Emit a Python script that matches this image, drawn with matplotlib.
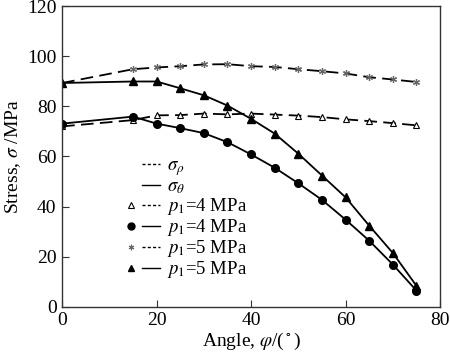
import numpy as np
import matplotlib
matplotlib.use('Agg')
from matplotlib import pyplot as plt
from matplotlib.lines import Line2D
from matplotlib.legend_handler import HandlerTuple

plt.rcParams['font.family'] = ['Liberation Serif', 'DejaVu Serif']
plt.rcParams['mathtext.fontset'] = 'stix'

# 角度 (°)
angle = [0, 15, 20, 25, 30, 35, 40, 45, 50, 55, 60, 65, 70, 75]

# p1 = 4 MPa
rho_p4 = [72.0, 74.5, 76.4, 76.5, 77.1, 76.8, 77.1, 76.7, 76.3, 75.7, 74.8, 74.1, 73.3, 72.4]
theta_p4 = [73.1, 75.9, 73.1, 71.3, 69.3, 65.7, 60.8, 55.5, 49.3, 42.7, 34.8, 26.4, 16.9, 6.5]

# p1 = 5 MPa
rho_p5 = [89.3, 94.8, 95.5, 96.0, 96.7, 96.8, 96.0, 95.7, 94.8, 94.0, 93.1, 91.6, 90.7, 89.7]
theta_p5 = [89.3, 89.9, 89.9, 87.2, 84.4, 80.3, 75.0, 69.1, 61.1, 52.4, 43.7, 32.4, 21.5, 8.4]

fig = plt.figure(figsize=(4.5, 3.54), dpi=100)
ax = fig.add_axes([0.138, 0.133, 0.84, 0.85])

dash = (7, 3.5)
ax.plot(angle, rho_p4, color='black', lw=1.3, dashes=dash, marker='^', ms=4.5,
        mfc='white', mec='black', mew=0.8)
ax.plot(angle, theta_p4, color='black', lw=1.3, marker='o', ms=5.5)
ax.plot(angle, rho_p5, color='black', lw=1.3, dashes=dash, marker=(6, 2, 0), ms=5,
        mec='#666666', mew=0.9)
ax.plot(angle, theta_p5, color='black', lw=1.3, marker='^', ms=6)

ax.set_xlim(0, 80)
ax.set_ylim(0, 120)
ax.set_xticks([0, 20, 40, 60, 80])
ax.set_yticks([0, 20, 40, 60, 80, 100, 120])
ax.tick_params(direction='in', length=5, labelsize=14, top=False, right=False,
               color='#333333', pad=4)
for sp in ax.spines.values():
    sp.set_color('#333333')
    sp.set_linewidth(1.0)

ax.set_xlabel(r'Angle, $\varphi$/($^\circ$)', fontsize=14, labelpad=1)
ax.set_ylabel(r'Stress, $\sigma$ /MPa', fontsize=14, labelpad=3)

# 图例
blank = Line2D([], [], ls='none', marker='None')
short = (2.2, 1.6)
ln_d = Line2D([], [], color='black', lw=1.0, dashes=short)
ln_s = Line2D([], [], color='black', lw=1.0)
m_tri_o = Line2D([], [], ls='none', marker='^', ms=4, mfc='white', mec='black', mew=0.8)
m_circ = Line2D([], [], ls='none', marker='o', ms=5, color='black')
m_star = Line2D([], [], ls='none', marker=(6, 2, 0), ms=4, mec='#666666', mew=0.8)
m_tri = Line2D([], [], ls='none', marker='^', ms=5, color='black')

handles = [(blank, ln_d), (blank, ln_s), (m_tri_o, ln_d), (m_circ, ln_s),
           (m_star, ln_d), (m_tri, ln_s)]
labels = [r'$\sigma_\rho$', r'$\sigma_\theta$', r'$p_1$=4 MPa', r'$p_1$=4 MPa',
          r'$p_1$=5 MPa', r'$p_1$=5 MPa']
ax.legend(handles, labels, handler_map={tuple: HandlerTuple(ndivide=None, pad=0.1)},
          loc='lower left', bbox_to_anchor=(0.125, 0.045), frameon=False, fontsize=13.5,
          handlelength=2.0, handletextpad=0.35, labelspacing=0.0, borderpad=0.2)

fig.savefig('out.png', dpi=100)
